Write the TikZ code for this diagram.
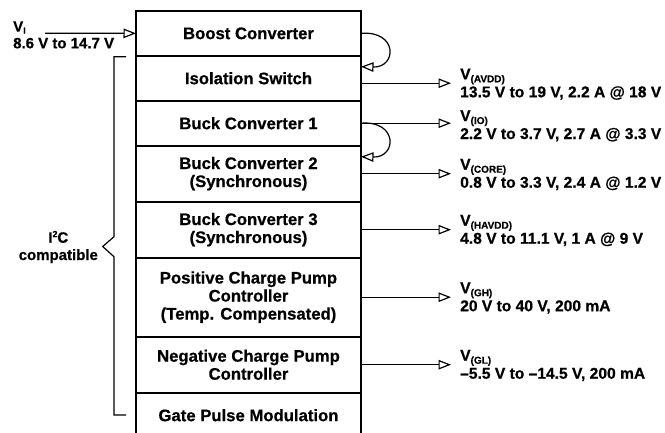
\documentclass[tikz,border=0pt]{standalone}
\usepackage{fontspec}
\setmainfont{Liberation Sans}[BoldFeatures={FakeBold=0.6}]
\usetikzlibrary{arrows.meta,calc}
\newcommand{\mysubtxt}[1]{\raisebox{-3pt}{\fontsize{10}{10}\selectfont #1}}
\newcommand{\mysuptxt}[1]{\raisebox{5.5pt}{\fontsize{9}{9}\selectfont #1}}
\begin{document}
\begin{tikzpicture}[x=1pt,y=-1pt,
 box/.style={draw, line width=2.2pt, minimum width=225pt, outer sep=0pt, inner sep=0pt,
   align=center, font=\fontsize{16.7}{18}\selectfont\bfseries, anchor=north west},
 outarrow/.style={-{Triangle[open,length=12.5pt,width=9.5pt]}, line width=1.2pt},
 lbl/.style={inner sep=0pt, anchor=base west, font=\fontsize{15.6}{18}\selectfont\bfseries},
 bracestyle/.style={line width=1.2pt}
]
\clip (0,0) rectangle (665,432);
% stacked blocks
\node[box, minimum height=44.7pt] (boost) at (136,11) {Boost Converter};
\node[box, minimum height=45pt] (iso) at (boost.south west) {Isolation Switch};
\node[box, minimum height=45pt] (buck1) at (iso.south west) {Buck Converter 1};
\node[box, minimum height=56pt] (buck2) at (buck1.south west) {Buck Converter 2\\(Synchronous)};
\node[box, minimum height=56pt] (buck3) at (buck2.south west) {Buck Converter 3\\(Synchronous)};
\node[box, minimum height=79pt] (pos) at (buck3.south west) {Positive Charge Pump\\Controller\\(Temp. Compensated)};
\node[box, minimum height=56pt] (neg) at (pos.south west) {Negative Charge Pump\\Controller};
\node[box, minimum height=45pt] (gate) at (neg.south west) {Gate Pulse Modulation};

% input
\node[lbl, font=\fontsize{15}{16.6}\selectfont\bfseries] (lvi) at (13,31.7)
  {\begin{tabular}[t]{@{}l@{}}V\raisebox{-2pt}{\fontsize{9}{9}\selectfont I}\\8.6 V to 14.7 V\end{tabular}};
\coordinate (vin) at (45,33.3);
\draw[outarrow] (vin) -- (boost.west);

% loops
\draw[outarrow] (boost.east) .. controls +(37,-3) and +(36,1) .. ($(iso.north east)+(0,11)$);
\draw[outarrow] (buck1.east) .. controls +(37,-3) and +(36,1) .. ($(buck2.north east)+(0,11)$);

% output labels
\node[lbl] (lavdd) at (460,79.3) {\begin{tabular}[t]{@{}l@{}}V\mysubtxt{(AVDD)}\\13.5 V to 19 V, 2.2 A @ 18 V\end{tabular}};
\node[lbl] (lio) at (460,121) {\begin{tabular}[t]{@{}l@{}}V\mysubtxt{(IO)}\\2.2 V to 3.7 V, 2.7 A @ 3.3 V\end{tabular}};
\node[lbl] (lcore) at (460,169.7) {\begin{tabular}[t]{@{}l@{}}V\mysubtxt{(CORE)}\\0.8 V to 3.3 V, 2.4 A @ 1.2 V\end{tabular}};
\node[lbl] (lhavdd) at (460,225.7) {\begin{tabular}[t]{@{}l@{}}V\mysubtxt{(HAVDD)}\\4.8 V to 11.1 V, 1 A @ 9 V\end{tabular}};
\node[lbl] (lgh) at (460,293.2) {\begin{tabular}[t]{@{}l@{}}V\mysubtxt{(GH)}\\20 V to 40 V, 200 mA\end{tabular}};
\node[lbl] (lgl) at (460,360.7) {\begin{tabular}[t]{@{}l@{}}V\mysubtxt{(GL)}\\–5.5 V to –14.5 V, 200 mA\end{tabular}};

\coordinate (avddsrc) at ($(iso.east)+(0,5)$);
\draw[outarrow, shorten >=9pt] (avddsrc) -- (avddsrc -| lavdd.west);
\draw[outarrow, shorten >=9pt] (buck1.east) -- (buck1.east -| lio.west);
\draw[outarrow, shorten >=9pt] (buck2.east) -- (buck2.east -| lcore.west);
\draw[outarrow, shorten >=9pt] (buck3.east) -- (buck3.east -| lhavdd.west);
\draw[outarrow, shorten >=9pt] (pos.east) -- (pos.east -| lgh.west);
\draw[outarrow, shorten >=9pt] (neg.east) -- (neg.east -| lgl.west);

% brace
\draw[bracestyle] (126,56.7) -- (114,56.7) -- (114,236.7) -- (102.7,246.5) -- (114,256.7) -- (114,415) -- (126,415);
\node[inner sep=0pt, anchor=base, font=\fontsize{15}{17.3}\selectfont\bfseries] (li2c) at (58.3,242.7)
  {\begin{tabular}[t]{@{}c@{}}I\mysuptxt{2}C\\compatible\end{tabular}};
\end{tikzpicture}
\end{document}
